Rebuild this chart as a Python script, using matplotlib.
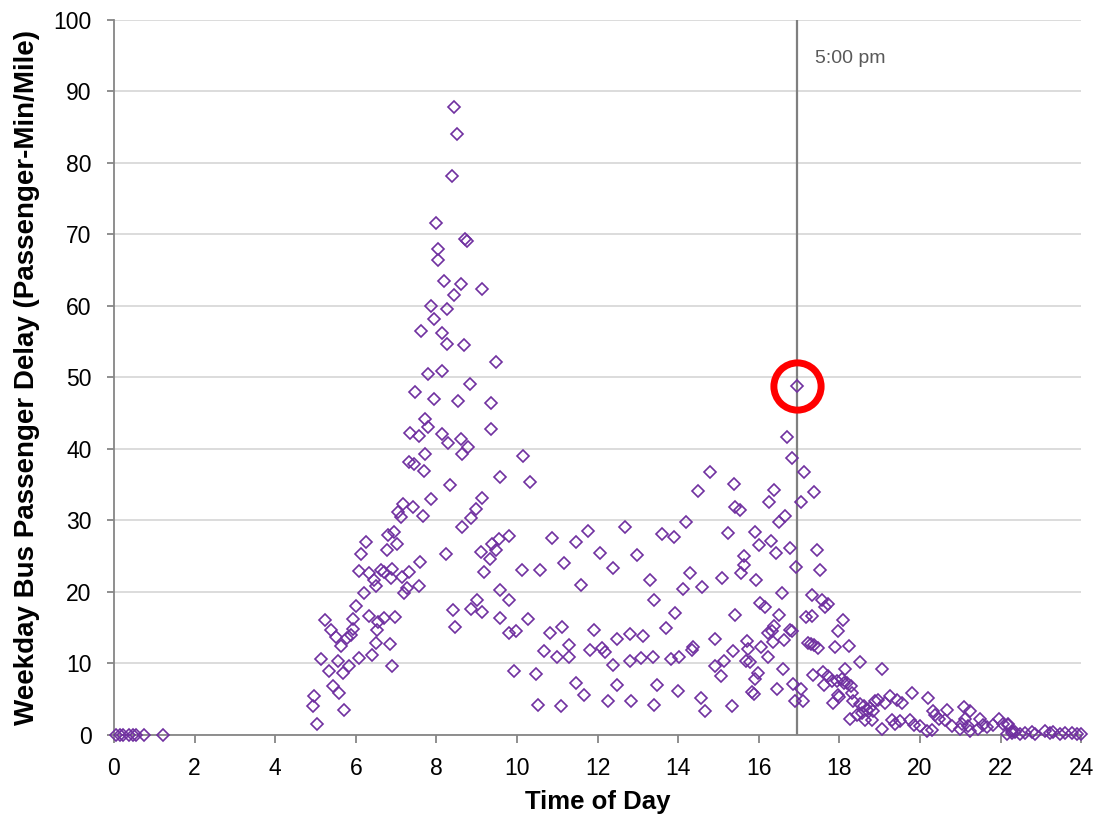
import matplotlib
matplotlib.use("Agg")
import matplotlib.pyplot as plt

plt.rcParams['font.family'] = ['Liberation Sans', 'DejaVu Sans']

# ---- data ----
time_of_day = [
    0.05, 0.15, 0.22, 0.38, 0.47, 0.55, 0.75, 1.22,
    4.93, 4.96, 5.04, 5.13, 5.23, 5.33, 5.38, 5.44, 5.51, 5.55, 5.59, 5.63, 5.69, 5.72, 5.78, 5.83, 5.88, 5.92, 5.93,
    6.01, 6.08, 6.09, 6.12, 6.21, 6.26, 6.34, 6.34, 6.41, 6.46, 6.50, 6.51, 6.52, 6.54, 6.63, 6.70, 6.71, 6.77, 6.81,
    6.84, 6.87, 6.90, 6.90, 6.96, 6.97, 7.03, 7.04, 7.12, 7.15, 7.16, 7.19, 7.26, 7.32, 7.32, 7.34, 7.42, 7.45, 7.47,
    7.56, 7.56, 7.60, 7.61, 7.68, 7.69, 7.73, 7.73, 7.79, 7.80, 7.86, 7.87, 7.93, 7.94, 7.99, 8.04, 8.05, 8.13, 8.15,
    8.15, 8.18, 8.25, 8.26, 8.27, 8.30, 8.33, 8.40, 8.41, 8.43, 8.43, 8.47, 8.51, 8.53, 8.61, 8.62, 8.63, 8.64, 8.68,
    8.72, 8.77, 8.79, 8.84, 8.85, 8.85, 8.98, 9.00, 9.10, 9.12, 9.12, 9.12, 9.19, 9.32, 9.35, 9.35, 9.37, 9.48, 9.49,
    9.55, 9.57, 9.58, 9.59, 9.81, 9.81, 9.81, 9.93, 9.98, 10.13, 10.16, 10.27, 10.33,
    10.48, 10.53, 10.57, 10.67, 10.81, 10.86, 10.99, 11.09, 11.11, 11.16, 11.30, 11.30, 11.47, 11.47, 11.59, 11.66,
    11.77, 11.80, 11.90, 12.07, 12.12, 12.19, 12.25, 12.38, 12.38, 12.48, 12.48, 12.67, 12.80, 12.81, 12.83, 12.98,
    13.09, 13.12, 13.29, 13.37, 13.39, 13.40, 13.47, 13.59, 13.70, 13.81, 13.89, 13.93, 14.00, 14.02, 14.12, 14.19,
    14.30, 14.35, 14.38, 14.48, 14.56, 14.60, 14.66, 14.78, 14.91, 14.91, 15.06, 15.08, 15.14, 15.24, 15.34, 15.37,
    15.39, 15.41, 15.41, 15.54, 15.57, 15.63, 15.63, 15.68, 15.70, 15.74, 15.78, 15.84, 15.88, 15.90, 15.90, 15.94,
    15.99, 16.00, 16.03, 16.05, 16.16, 16.22, 16.24, 16.25, 16.30, 16.32, 16.36, 16.39, 16.39, 16.43, 16.44, 16.51,
    16.51, 16.57, 16.60, 16.63, 16.66, 16.70, 16.78, 16.78, 16.82, 16.82, 16.84, 16.90, 16.92, 16.94,
    17.04, 17.04, 17.10, 17.11, 17.17, 17.22, 17.30, 17.31, 17.31, 17.35, 17.37, 17.38, 17.45, 17.46, 17.51, 17.56,
    17.60, 17.61, 17.65, 17.71, 17.71, 17.81, 17.83, 17.88, 17.94, 17.96, 17.97, 17.98, 18.06, 18.10, 18.11, 18.13,
    18.20, 18.24, 18.27, 18.28, 18.31, 18.35, 18.43, 18.50, 18.51, 18.56, 18.60, 18.64, 18.68, 18.76, 18.81, 18.84,
    18.88, 18.96, 19.05, 19.05, 19.13, 19.26, 19.30, 19.38, 19.42, 19.50, 19.55, 19.75, 19.80, 19.84, 20.00, 20.17,
    20.21, 20.29, 20.33, 20.37, 20.46, 20.62, 20.66, 20.79, 21.00, 21.04, 21.09, 21.12, 21.20, 21.23, 21.24, 21.45,
    21.49, 21.57, 21.66, 21.82, 21.95, 22.07, 22.15, 22.19, 22.19, 22.28, 22.28, 22.36, 22.48, 22.61, 22.77, 22.86,
    23.11, 23.23, 23.31, 23.48, 23.60, 23.77, 23.89, 24.00,
]
delay = [
    0.0, 0.0, 0.0, 0.0, 0.0, 0.0, 0.0, 0.0,
    4.1, 5.4, 1.5, 10.6, 16.1, 8.9, 14.7, 6.8, 13.7, 10.3, 5.8, 12.4, 8.7, 3.5, 13.5, 9.6, 14.0, 14.8, 16.2,
    18.0, 22.9, 10.7, 25.3, 19.8, 27.0, 22.6, 16.6, 11.2, 21.7, 12.8, 20.8, 14.7, 15.8, 23.1, 22.8, 16.3, 25.8, 27.9,
    12.7, 22.0, 23.2, 9.6, 28.4, 16.5, 26.7, 31.2, 30.4, 22.1, 32.3, 19.8, 20.6, 22.8, 38.2, 42.2, 31.9, 37.9, 48.0,
    41.8, 20.8, 24.2, 56.4, 30.6, 36.9, 44.1, 39.3, 43.0, 50.4, 33.0, 60.0, 58.1, 46.9, 71.6, 66.4, 67.9, 50.9, 56.2,
    42.1, 63.5, 25.3, 54.7, 59.5, 40.8, 34.9, 78.2, 17.4, 87.8, 61.5, 15.1, 84.0, 46.7, 63.0, 41.4, 29.0, 39.3, 54.5,
    69.3, 69.1, 40.3, 49.1, 30.3, 17.6, 31.6, 18.8, 25.6, 62.4, 33.1, 17.2, 22.8, 24.6, 46.4, 42.7, 26.7, 52.1, 25.8,
    27.4, 20.2, 16.3, 36.1, 27.8, 18.8, 14.2, 9.0, 14.6, 23.1, 39.0, 16.2, 35.4,
    8.5, 4.2, 23.1, 11.7, 14.2, 27.6, 10.9, 4.0, 15.1, 24.1, 12.6, 10.9, 27.0, 7.2, 20.9, 5.6,
    28.5, 11.9, 14.7, 25.5, 12.1, 11.6, 4.7, 23.4, 9.8, 13.4, 7.0, 29.1, 14.1, 10.3, 4.8, 25.1,
    10.7, 13.8, 21.7, 10.9, 18.8, 4.2, 7.0, 28.1, 15.0, 10.6, 27.7, 17.1, 6.1, 10.9, 20.4, 29.7,
    22.7, 11.9, 12.3, 34.1, 5.2, 20.7, 3.3, 36.7, 13.4, 9.7, 8.3, 22.0, 10.3, 28.2, 4.1, 11.7,
    35.1, 31.9, 16.7, 31.5, 22.6, 25.0, 23.7, 10.3, 13.2, 12.0, 10.2, 6.0, 5.7, 28.3, 7.8, 21.6,
    8.6, 26.5, 18.4, 12.3, 17.9, 10.9, 14.2, 32.6, 27.1, 14.6, 13.0, 34.3, 15.2, 25.5, 6.4, 29.8,
    16.7, 19.9, 9.2, 13.3, 30.6, 41.7, 26.1, 14.7, 14.5, 38.7, 7.1, 4.8, 23.5, 48.8,
    32.5, 6.4, 4.7, 36.7, 16.5, 12.8, 12.7, 16.6, 19.5, 8.4, 34.0, 12.6, 25.9, 12.1, 23.0, 18.9,
    8.8, 7.0, 17.9, 18.3, 8.2, 7.5, 4.4, 12.3, 7.6, 14.5, 5.6, 5.3, 7.8, 16.0, 7.2, 9.2,
    7.2, 12.4, 2.3, 6.8, 5.8, 4.7, 2.8, 10.2, 4.3, 3.0, 4.0, 2.1, 3.5, 3.7, 2.1, 3.3,
    4.7, 4.9, 9.2, 0.8, 4.4, 5.4, 2.1, 1.6, 4.9, 1.9, 4.4, 2.1, 5.9, 1.4, 1.2, 0.5,
    5.2, 0.7, 3.3, 2.8, 2.3, 2.1, 3.5, 1.2, 0.9, 1.6, 3.9, 2.3, 1.3, 3.3, 0.6, 0.9,
    2.2, 1.4, 1.1, 1.4, 2.3, 1.6, 0.2, 1.4, 1.6, 0.5, 0.3, 0.4, 0.2, 0.3, 0.4, 0.2,
    0.5, 0.3, 0.4, 0.2, 0.3, 0.3, 0.2, 0.1,
]
highlight_time = 16.94
highlight_delay = 48.8
marker_time = 16.95
marker_label = "5:00 pm"
x_ticks = list(range(0, 25, 2))
y_ticks = list(range(0, 101, 10))

# ---- figure ----
fig = plt.figure(figsize=(11.01, 8.21), dpi=100)
ax = fig.add_axes([0.1035, 0.1048, 0.8785, 0.8714])

grey = '#868686'
ax.set_xlim(0, 24)
ax.set_ylim(0, 100)
ax.set_xticks(x_ticks)
ax.set_yticks(y_ticks)
ax.yaxis.grid(True, color='#D9D9D9', linewidth=1.3)
ax.set_axisbelow(True)
for s in ['top', 'right']:
    ax.spines[s].set_visible(False)
for s in ['left', 'bottom']:
    ax.spines[s].set_color(grey)
    ax.spines[s].set_linewidth(1.3)
ax.tick_params(axis='both', direction='out', color=grey, width=1.3,
               labelsize=16.5, labelcolor='black')
ax.tick_params(axis='y', length=5, pad=11)
ax.tick_params(axis='x', length=6, pad=10)

ax.axvline(marker_time, color='#7F7F7F', linewidth=1.6, zorder=2)
ax.text(marker_time + 0.45, 94.5, marker_label, fontsize=14, color='#595959',
        va='center', ha='left')

ax.plot(time_of_day, delay, linestyle='none', marker='D', markersize=6.2,
        markerfacecolor='none', markeredgecolor='#7030A0', markeredgewidth=1.2,
        clip_on=False, zorder=3)

ax.plot([highlight_time], [highlight_delay], linestyle='none', marker='o',
        markersize=34, markerfacecolor='none', markeredgecolor='#FF0000',
        markeredgewidth=5, zorder=4)

ax.set_xlabel('Time of Day', fontsize=18.5, fontweight='bold', labelpad=7)
ax.set_ylabel('Weekday Bus Passenger Delay (Passenger-Min/Mile)', fontsize=20,
              fontweight='bold', labelpad=10)

fig.savefig('out.png', dpi=100)
